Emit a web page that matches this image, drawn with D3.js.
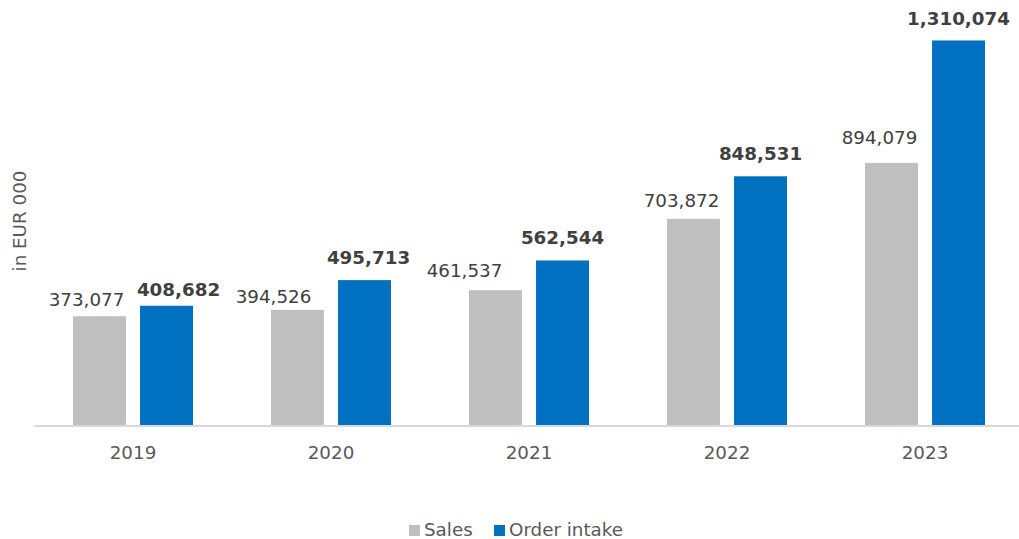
<!DOCTYPE html>
<html>
<head>
<meta charset="utf-8">
<script src="https://cdn.jsdelivr.net/npm/d3@7"></script>
<style>
  html, body { margin: 0; padding: 0; background: #ffffff; }
  svg { display: block; }
  text { font-family: "DejaVu Sans", Verdana, sans-serif; }
</style>
</head>
<body>
<svg id="chart" width="1019" height="539"></svg>
<script>
// Sales and order intake per year, in EUR 000
const years = ["2019", "2020", "2021", "2022", "2023"];
const sales = [373077, 394526, 461537, 703872, 894079];
const orderIntake = [408682, 495713, 562544, 848531, 1310074];
const seriesNames = ["Sales", "Order intake"];
const seriesColors = ["#bfbfbf", "#0070c0"];
const yTitle = "in EUR 000";

const W = 1019, H = 539;
const margin = { left: 34, right: -5, top: 14, bottom: 113 };
const FONT = 18.3;
const svg = d3.select("#chart");

const x0 = d3.scaleBand()
  .domain(years)
  .range([margin.left, W - margin.right])
  .paddingInner(0.394)
  .paddingOuter(0.197);

const x1 = d3.scaleBand()
  .domain(seriesNames)
  .range([0, x0.bandwidth()])
  .paddingInner(0.21);

const y = d3.scaleLinear()
  .domain([0, 1400000])
  .range([H - margin.bottom, margin.top]);

// hand-placed value labels: [dx, gap above bar] for sales / order intake
const labelPlacement = [
  [[-13, 10], [12, 10]],
  [[-24, 7], [4, 16]],
  [[-31, 13], [0, 16]],
  [[-12, 12], [0, 16]],
  [[-12, 19], [0, 15]]
];

const rows = years.map((yr, i) => ({
  year: yr,
  values: [
    { name: seriesNames[0], value: sales[i], bold: false, place: labelPlacement[i][0] },
    { name: seriesNames[1], value: orderIntake[i], bold: true, place: labelPlacement[i][1] }
  ]
}));

const fmt = d3.format(",");
const color = d3.scaleOrdinal().domain(seriesNames).range(seriesColors);

// bars
const groups = svg.append("g").selectAll("g")
  .data(rows)
  .join("g")
  .attr("transform", d => `translate(${x0(d.year)},0)`);

groups.selectAll("rect")
  .data(d => d.values)
  .join("rect")
  .attr("x", d => x1(d.name))
  .attr("width", x1.bandwidth())
  .attr("y", d => y(d.value))
  .attr("height", d => y(0) - y(d.value))
  .attr("fill", d => color(d.name));

// value labels
groups.selectAll("text")
  .data(d => d.values)
  .join("text")
  .attr("x", d => x1(d.name) + x1.bandwidth() / 2 + d.place[0])
  .attr("y", d => y(d.value) - d.place[1])
  .attr("text-anchor", "middle")
  .attr("font-size", FONT)
  .attr("font-weight", d => d.bold ? "bold" : "normal")
  .attr("fill", "#404040")
  .text(d => fmt(d.value));

// category axis
const xAxis = svg.append("g")
  .attr("transform", `translate(0,${y(0)})`)
  .call(d3.axisBottom(x0).tickSize(0).tickPadding(20));
xAxis.select(".domain")
  .attr("stroke", "#d9d9d9")
  .attr("stroke-width", 2)
  .attr("d", `M${margin.left},0H${W}`);
xAxis.selectAll(".tick text")
  .attr("font-size", FONT)
  .attr("fill", "#595959")
  .attr("font-family", "DejaVu Sans, Verdana, sans-serif");

// axis title
svg.append("text")
  .attr("transform", `translate(26,221) rotate(-90)`)
  .attr("text-anchor", "middle")
  .attr("font-size", FONT)
  .attr("fill", "#595959")
  .text(yTitle);

// legend
const legend = svg.append("g").attr("transform", `translate(409,${H - 14})`);
const legendX = [0, 85];
seriesNames.forEach((name, i) => {
  const g = legend.append("g").attr("transform", `translate(${legendX[i]},0)`);
  g.append("rect")
    .attr("x", 0).attr("y", 0)
    .attr("width", 11).attr("height", 11)
    .attr("fill", seriesColors[i]);
  g.append("text")
    .attr("x", 15).attr("y", 11)
    .attr("font-size", FONT)
    .attr("fill", "#595959")
    .text(name);
});
</script>
</body>
</html>
